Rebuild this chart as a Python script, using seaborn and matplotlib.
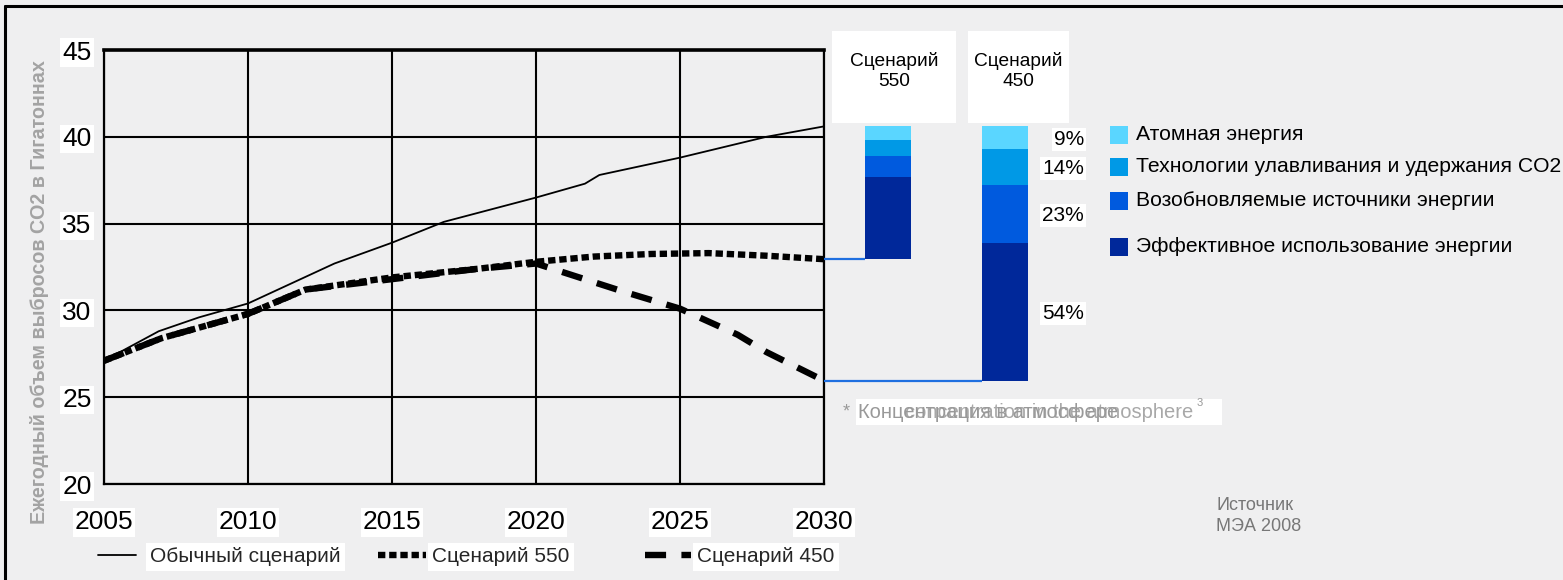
import matplotlib
matplotlib.use("Agg")
import matplotlib.pyplot as plt
import seaborn as sns
from matplotlib.patches import Rectangle
from matplotlib.lines import Line2D

# ---- data -------------------------------------------------------------
bau_years = [2005, 2006.9, 2008.3, 2010, 2013, 2015, 2016.8, 2020, 2021.7, 2022.2, 2025, 2028, 2030]
bau_vals = [27.1, 28.8, 29.6, 30.4, 32.7, 33.9, 35.1, 36.5, 37.3, 37.8, 38.8, 40.0, 40.6]

s550_years = [2005, 2007, 2010, 2012, 2015, 2018, 2020, 2022, 2024, 2026, 2028, 2030]
s550_vals = [27.1, 28.4, 29.8, 31.2, 31.9, 32.4, 32.8, 33.1, 33.25, 33.3, 33.15, 32.95]

s450_years = [2005, 2007, 2010, 2012, 2015, 2018, 2020, 2021.5, 2023, 2025, 2027, 2028, 2030]
s450_vals = [27.1, 28.4, 29.8, 31.2, 31.8, 32.4, 32.7, 31.9, 31.1, 30.1, 28.6, 27.6, 25.95]

scenario_names = ["Обычный сценарий", "Сценарий 550", "Сценарий 450"]
x_ticks = [2005, 2010, 2015, 2020, 2025, 2030]
y_ticks = [20, 25, 30, 35, 40, 45]

# abatement measures, listed from the bottom of each stacked bar upwards
measure_labels = [
    "Эффективное использование энергии",
    "Возобновляемые источники энергии",
    "Технологии улавливания и удержания CO2",
    "Атомная энергия",
]
share_550 = [62, 16, 12, 10]
share_450 = [54, 23, 14, 9]
bar_titles = ["Сценарий\n550", "Сценарий\n450"]

y_label = "Ежегодный объем выбросов CO2 в Гигатоннах"
source_text = "Источник\nМЭА 2008"
note_ru = "Концентрация в атмосфере"
note_en = "concentration in the atmosphere"

# ---- style ------------------------------------------------------------
sns.set_theme(style="white")
plt.rcParams["font.family"] = ["Liberation Sans", "DejaVu Sans"]
BG = "#efeff0"
measure_colors = ["#00289a", "#005ade", "#0099e6", "#5ad6ff"]
link_color = "#1f6fe0"

W, H = 1563, 580
fig = plt.figure(figsize=(W / 100, H / 100), dpi=100, facecolor=BG)


def fx(px):
    return px / W


def fy(py):
    return 1 - py / H


# outer frame (top and left edges)
fig.add_artist(Line2D([fx(5), fx(5)], [fy(6), 0], color="black", lw=2.2))
fig.add_artist(Line2D([fx(5), 1], [fy(6), fy(6)], color="black", lw=2.2))

# ---- main line chart -----------------------------------------------------
ax = fig.add_axes([fx(104), fy(484), fx(824) - fx(104), fy(50) - fy(484)])
ax.set_facecolor("none")

sns.lineplot(x=bau_years, y=bau_vals, ax=ax, color="black", lw=1.3,
             label=scenario_names[0], legend=False)
sns.lineplot(x=s550_years, y=s550_vals, ax=ax, color="black", lw=4.6,
             linestyle=(0, (1.15, 0.6)), label=scenario_names[1], legend=False)
sns.lineplot(x=s450_years, y=s450_vals, ax=ax, color="black", lw=4.6,
             linestyle=(0, (3.3, 2.4)), label=scenario_names[2], legend=False)

ax.set_xlim(x_ticks[0], x_ticks[-1])
ax.set_ylim(y_ticks[0], y_ticks[-1])
ax.set_xticks(x_ticks)
ax.set_yticks(y_ticks)
ax.grid(True, color="black", lw=1.5)
ax.set_axisbelow(True)
for s in ax.spines.values():
    s.set_color("black")
    s.set_linewidth(1.6)
ax.spines["top"].set_linewidth(2.6)
ax.tick_params(axis="both", direction="out", length=3, width=1.5, color="black",
               labelsize=19, labelcolor="black")
ax.tick_params(axis="x", pad=16)
ax.tick_params(axis="y", pad=6)
for lab in ax.get_xticklabels() + ax.get_yticklabels():
    lab.set_bbox(dict(facecolor="white", edgecolor="none", pad=1.5))
ax.set_xlabel("")
ax.set_ylabel("")

fig.text(fx(40), fy(292), y_label, rotation=90, ha="center", va="center",
         fontsize=14.2, fontweight="bold", color="#a3a3a3")

# ---- stacked abatement bars -------------------------------------------------
axb = fig.add_axes([fx(824), fy(484), fx(1100) - fx(824), fy(50) - fy(484)])
axb.set_ylim(y_ticks[0], y_ticks[-1])
axb.set_xlim(-0.547, 1.812)
axb.axis("off")

bar_w = 0.40
top = bau_vals[-1]
for pos, (bottom, shares) in enumerate([(s550_vals[-1], share_550), (s450_vals[-1], share_450)]):
    total = top - bottom
    base = bottom
    for share, col in zip(shares, measure_colors):
        h = total * share / 100
        axb.bar(pos, h, bottom=base, width=bar_w, color=col, edgecolor="none")
        if pos == 1:
            axb.text(1.675, base + h / 2 - 0.1, f"{share}%", ha="right", va="center",
                     fontsize=15, color="black",
                     bbox=dict(facecolor="white", edgecolor="none", pad=1.5))
        base += h
    # link from the scenario end point to the bar base
    axb.plot([-0.547, pos - bar_w / 2], [bottom, bottom], color=link_color, lw=1.6,
             solid_capstyle="butt")

# bar headers
for (x0, x1), title in zip([(832, 956), (968, 1069)], bar_titles):
    fig.add_artist(Rectangle((fx(x0), fy(123)), fx(x1) - fx(x0), fy(31) - fy(123),
                             transform=fig.transFigure, facecolor="white",
                             edgecolor="none"))
    fig.text(fx((x0 + x1) / 2), fy(71), title, ha="center", va="center",
             fontsize=13.8, color="black", linespacing=1.2)

# measure legend
for label, col, yc in zip(measure_labels, measure_colors, [248, 202, 168, 136]):
    fig.add_artist(Rectangle((fx(1110), fy(yc + 8)), fx(18), 18 / H,
                             transform=fig.transFigure, facecolor=col,
                             edgecolor="none"))
    fig.text(fx(1136), fy(yc - 2), label, ha="left", va="center", fontsize=15.2,
             color="black")

# footnote: Russian and English wording printed on top of each other
fig.add_artist(Rectangle((fx(856), fy(425)), fx(366), 26 / H,
                         transform=fig.transFigure, facecolor="white",
                         edgecolor="none"))
fig.text(fx(843), fy(412), "*", ha="left", va="center", fontsize=13, color="#999999")
fig.text(fx(858), fy(413), note_ru, ha="left", va="center", fontsize=14.5,
         color="#999999")
fig.text(fx(905), fy(413), note_en, ha="left", va="center", fontsize=14.5,
         color="#999999", alpha=0.85)
fig.text(fx(1197), fy(403), "3", ha="left", va="center", fontsize=8, color="#999999")

# source
fig.text(fx(1216), fy(516), source_text, ha="left", va="center", fontsize=13,
         color="#777777", linespacing=1.3)

# ---- scenario legend ------------------------------------------------------
lines = ax.get_lines()
for line, name, x0, hl, hp in zip(lines[:3], scenario_names, [98, 378, 645],
                                  [1.8, 2.3, 2.2], [0.7, 0.3, 0.3]):
    leg = fig.legend([line], [name], loc="center left",
                     bbox_to_anchor=(fx(x0), fy(557)), frameon=False,
                     fontsize=15, handlelength=hl, handletextpad=hp,
                     borderpad=0, borderaxespad=0)
    for t in leg.get_texts():
        t.set_bbox(dict(facecolor="white", edgecolor="none", pad=3))

fig.savefig("out.png", dpi=100, facecolor=BG)
